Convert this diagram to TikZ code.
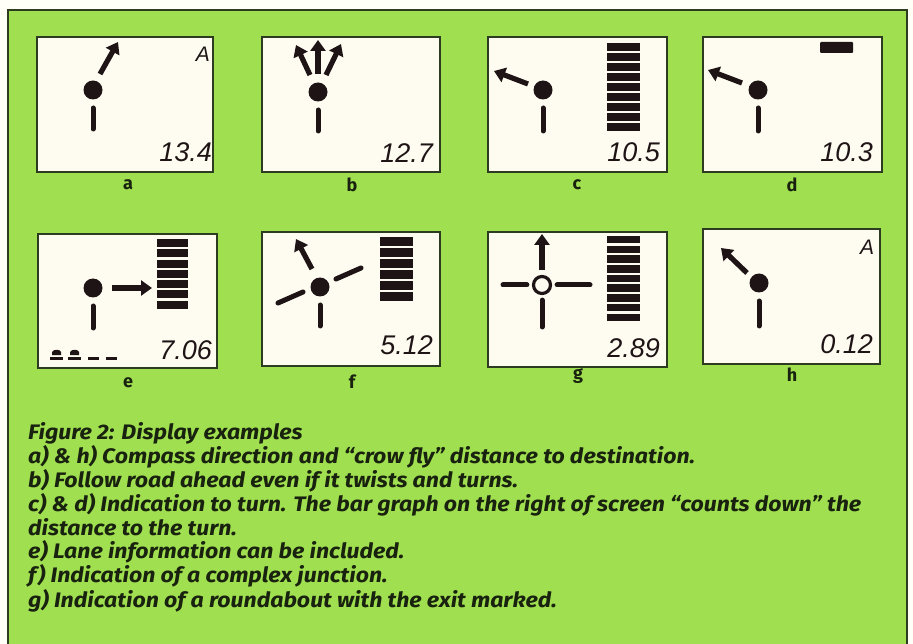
\documentclass[tikz,border=0pt]{standalone}
\usepackage{fontspec}
\usetikzlibrary{arrows.meta}
\setmainfont{Fira Sans}
\newfontfamily\lcdfont{Liberation Sans}
\definecolor{bggreen}{RGB}{160,223,80}
\definecolor{panelfill}{RGB}{254,252,240}
\definecolor{framecol}{RGB}{45,60,32}
\definecolor{inkcol}{RGB}{30,20,22}
\definecolor{textcol}{RGB}{24,34,14}
\newcommand\lcdbars[6]{% x1 x2 ytop n pitch h
  \foreach \i in {1,...,#4}{
    \fill[inkcol] (#1,{#3+(\i-1)*#5}) rectangle (#2,{#3+(\i-1)*#5+#6});
  }}
\newcommand\carsym[2]{% x y (left, baseline)
  \fill[inkcol] (#1,#2) rectangle ++(13,-3.5);
  \fill[inkcol] (#1+2,#2-5) -- ++(0,-3) .. controls (#1+3,#2-11) and (#1+10,#2-11) .. (#1+11,#2-8) -- ++(0,3) -- cycle;
}
\newcommand\captline[1]{\scalebox{1.1}[1]{#1}}
\tikzset{
  panel/.style={draw=framecol, line width=1.3pt, fill=panelfill},
  road/.style={draw=inkcol, line width=5pt, line cap=round},
  dirarrow/.style={draw=inkcol, line width=5.2pt, -{Triangle[width=15pt,length=11pt]}},
  junction/.style={circle, fill=inkcol, minimum size=19pt, inner sep=0pt},
  ring/.style={circle, draw=inkcol, line width=3.2pt, fill=panelfill, minimum size=17pt, inner sep=0pt},
  lcd/.style={font=\lcdfont\itshape\fontsize{27}{27}\selectfont, text=inkcol, inner sep=0pt, anchor=east},
  lcdletter/.style={font=\lcdfont\itshape\fontsize{21}{21}\selectfont, text=inkcol, inner sep=0pt},
  plabel/.style={font=\bfseries\fontsize{18}{18}\selectfont, text=textcol, inner sep=0pt},
  captxt/.style={font=\bfseries\itshape\fontsize{21}{22}\selectfont, text=textcol, inner sep=0pt, anchor=base west},
}
\begin{document}
\begin{tikzpicture}[x=1pt,y=-1pt]
\useasboundingbox (0,0) rectangle (913,644);
\fill[white!97!yellow] (0,0) rectangle (913,644);
\draw[draw=framecol, line width=1.5pt, fill=bggreen] (8,10) rectangle (907,660);

% ---- panel a
\draw[panel] (37,37) rectangle (213,172);
\node[junction] (ja) at (93,90) {};
\draw[road] (93,108) -- (93,129);
\draw[dirarrow] (100,74) -- (118,42);
\node[lcdletter] (la) at (203,54) {A};
\node[lcd] (da) at (212,152) {13.4};
\node[plabel] (pa) at (128,185) {a};

% ---- panel b
\draw[panel] (262,37) rectangle (440,172);
\node[junction] (jb) at (318,92) {};
\draw[road] (318,110) -- (318,131);
\draw[dirarrow] (310,75) -- (296,45);
\draw[dirarrow] (318,74) -- (318,40);
\draw[dirarrow] (326,75) -- (341,44);
\node[lcd] (db) at (433,153) {12.7};
\node[plabel] (pb) at (352,185) {b};

% ---- panel c
\draw[panel] (488,37) rectangle (667,172);
\node[junction] (jc) at (543,90) {};
\draw[road] (543,108) -- (543,131);
\draw[dirarrow] (528,84) -- (494,71);
\lcdbars{607}{640}{43}{9}{10}{8}
\node[lcd] (dc) at (660,152) {10.5};
\node[plabel] (pc) at (577,185) {c};

% ---- panel d
\draw[panel] (703,37) rectangle (882,172);
\node[junction] (jd) at (758,90) {};
\draw[road] (758,108) -- (758,131);
\draw[dirarrow] (742,83) -- (708,70);
\fill[inkcol, rounded corners=1pt] (820,42) rectangle (853,53);
\node[lcd] (dd) at (873,152) {10.3};
\node[plabel] (pd) at (792,185) {d};

% ---- panel e
\draw[panel] (38,234) rectangle (217,368);
\node[junction] (je) at (93,288) {};
\draw[road] (93,306) -- (93,328);
\draw[dirarrow] (112,288) -- (152,288);
\lcdbars{157}{188}{239}{7}{10.3}{8}
\node[lcd] (de) at (212,350) {7.06};
\carsym{50}{360}
\carsym{68}{360}
\fill[inkcol] (88,360) rectangle (99,356.5);
\fill[inkcol] (106,360) rectangle (117,356.5);
\node[plabel] (pe) at (128,383) {e};

% ---- panel f
\draw[panel] (262,232) rectangle (440,366);
\node[junction] (jf) at (320,287) {};
\draw[road] (320,305) -- (320,326);
\draw[road] (278,303) -- (303,292);
\draw[road] (336,279) -- (361,268);
\draw[dirarrow] (312,269) -- (296,239);
\lcdbars{380}{413}{237}{6}{11}{9}
\node[lcd] (df) at (433,345) {5.12};
\node[plabel] (pf) at (352,382) {f};

% ---- panel g
\draw[panel] (488,232) rectangle (667,367);
\node[ring] (rg) at (542,285) {};
\draw[road] (rg.west) ++(-5,0) -- (503,285);
\draw[road] (rg.east) ++(5,0) -- (590,285);
\draw[road] (rg.south) ++(0,5) -- (542,327);
\draw[dirarrow] (rg.north) ++(0,-5) -- (542,234);
\lcdbars{607}{640}{236}{9}{9.7}{7.5}
\node[lcd] (dg) at (660,348) {2.89};
\node[plabel] (pg) at (578,376) {g};

% ---- panel h
\draw[panel] (703,229) rectangle (880,364);
\node[junction] (jh) at (759,283) {};
\draw[road] (759,301) -- (759,326);
\draw[dirarrow] (747,273) -- (721,248);
\node[lcdletter] (lh) at (867,247) {A};
\node[lcd] (dh) at (873,344) {0.12};
\node[plabel] (ph) at (792,375) {h};

% ---- caption
\node[captxt] (c1) at (28,439) {\captline{Figure 2: Display examples}};
\node[captxt] (c2) at (28,463) {\captline{a) \& h) Compass direction and “crow fly” distance to destination.}};
\node[captxt] (c3) at (28,487) {\captline{b) Follow road ahead even if it twists and turns.}};
\node[captxt] (c4) at (28,511) {\captline{c) \& d) Indication to turn. The bar graph on the right of screen “counts down” the}};
\node[captxt] (c5) at (28,535) {\captline{distance to the turn.}};
\node[captxt] (c6) at (28,558) {\captline{e) Lane information can be included.}};
\node[captxt] (c7) at (28,582) {\captline{f) Indication of a complex junction.}};
\node[captxt] (c8) at (28,607) {\captline{g) Indication of a roundabout with the exit marked.}};
\end{tikzpicture}
\end{document}
